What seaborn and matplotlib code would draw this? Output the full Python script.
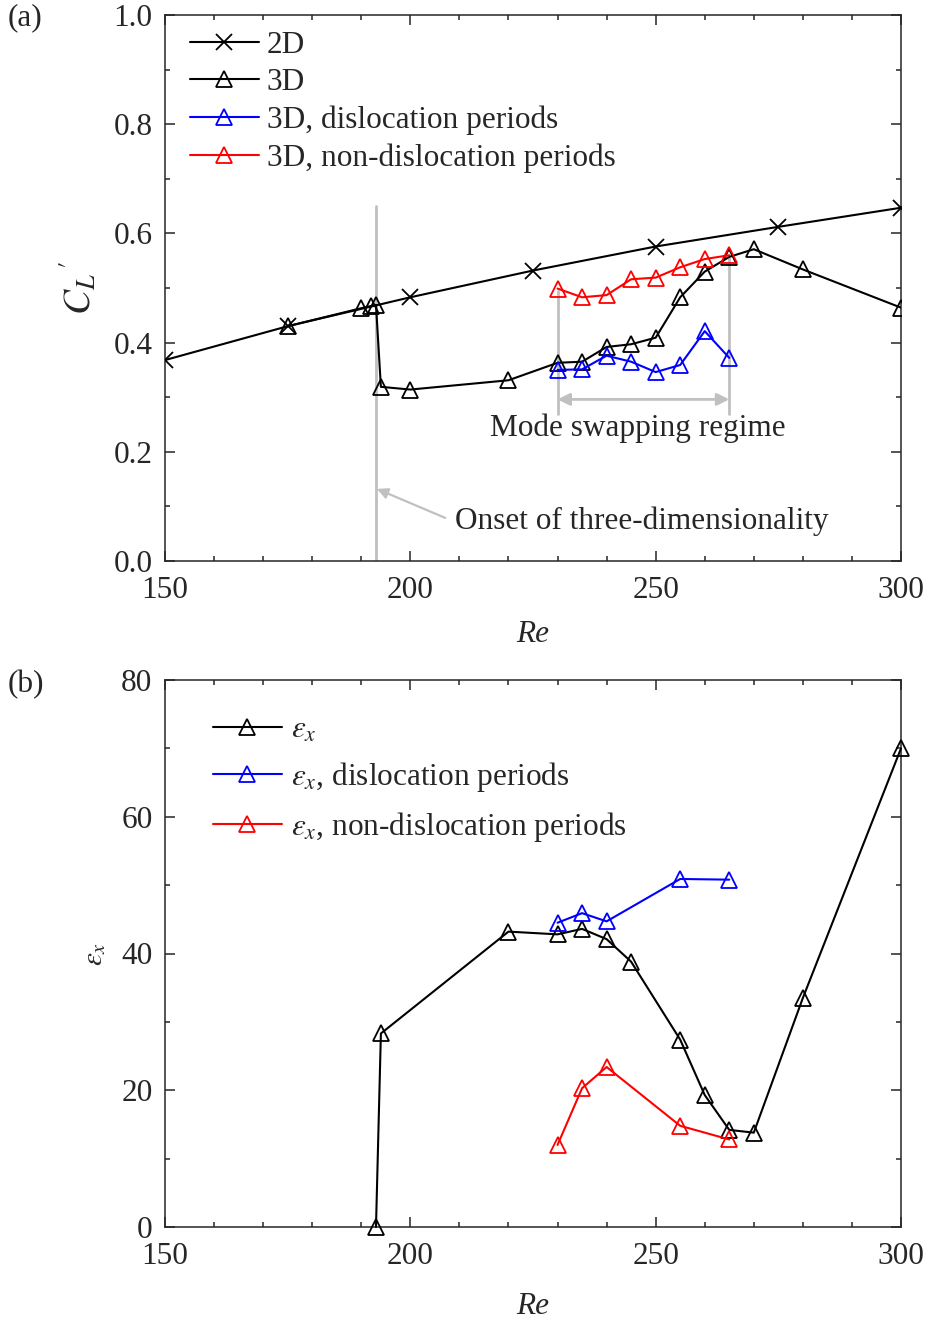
import matplotlib
matplotlib.use("Agg")
import matplotlib.pyplot as plt
import seaborn as sns

# Lift coefficient fluctuation C_L' versus Reynolds number
re_2d = [150, 175, 200, 225, 250, 275, 300]
cl_2d = [0.368, 0.430, 0.483, 0.532, 0.576, 0.612, 0.647]

re_3d = [175, 190, 192, 193, 194, 200, 220, 230, 235, 240, 245, 250, 255,
         260, 265, 270, 280, 300]
cl_3d = [0.430, 0.463, 0.467, 0.469, 0.319, 0.314, 0.331, 0.363, 0.365,
         0.392, 0.397, 0.409, 0.483, 0.530, 0.557, 0.571, 0.534, 0.464]

re_swap = [230, 235, 240, 245, 250, 255, 260, 265]
cl_disl = [0.350, 0.351, 0.376, 0.365, 0.346, 0.359, 0.421, 0.372]
cl_nondisl = [0.499, 0.483, 0.487, 0.516, 0.519, 0.538, 0.553, 0.560]

# Streamwise quantity epsilon_x versus Reynolds number
re_eps = [193, 194, 220, 230, 235, 240, 245, 255, 260, 265, 270, 280, 300]
eps = [0.0, 28.3, 43.2, 42.8, 43.6, 42.1, 38.8, 27.4, 19.3, 14.2, 13.8,
       33.5, 70.0]

re_eps_sub = [230, 235, 240, 255, 265]
eps_disl = [44.5, 45.9, 44.7, 50.9, 50.8]
eps_nondisl = [12.0, 20.3, 23.4, 14.8, 12.8]

sns.set_style("ticks")
plt.rcParams["font.family"] = ["Liberation Serif", "DejaVu Serif"]
plt.rcParams["mathtext.fontset"] = "stix"
FS = 22.5
plt.rcParams["font.size"] = FS

GRAY = "#c0c0c0"
BLUE = "#0000ff"
RED = "#ff0000"

fig = plt.figure(figsize=(9.26, 13.22), dpi=100)
W, H = 926.0, 1322.0
ax1 = fig.add_axes([165 / W, 1 - 561 / H, 736 / W, 546 / H])
ax2 = fig.add_axes([165 / W, 1 - 1227 / H, 736 / W, 547 / H])


def series(ax, x, y, color, marker, label, clip=True, ms=11):
    sns.lineplot(x=x, y=y, ax=ax, color=color, marker=marker,
                 markersize=ms, markerfacecolor="none",
                 markeredgecolor=color, markeredgewidth=1.3,
                 linewidth=1.5, label=label, clip_on=clip, zorder=3)


def style_axes(ax, ymajor, yminor, ylim):
    ax.set_xlim(150, 300)
    ax.set_ylim(*ylim)
    ax.set_xticks([150, 200, 250, 300])
    ax.set_xticks(range(160, 300, 10), minor=True)
    ax.set_yticks(ymajor)
    ax.set_yticks(yminor, minor=True)
    ax.tick_params(which="both", direction="in", top=True, right=True,
                   width=1.1, labelsize=FS)
    ax.tick_params(axis="x", pad=11)
    ax.tick_params(axis="y", pad=9)
    ax.tick_params(which="major", length=7)
    ax.tick_params(which="minor", length=3.5)
    for s in ax.spines.values():
        s.set_linewidth(1.1)
        s.set_visible(True)
    ax.set_xlabel("Re", style="italic", fontsize=FS)
    ax.xaxis.set_label_coords(0.5, -0.108)


# ---- panel (a) ----
series(ax1, re_2d, cl_2d, "black", "x", "2D")
series(ax1, re_3d, cl_3d, "black", "^", "3D")
series(ax1, re_swap, cl_disl, BLUE, "^", "3D, dislocation periods")
series(ax1, re_swap, cl_nondisl, RED, "^", "3D, non-dislocation periods")

ax1.plot([193, 193], [0, 0.65], color=GRAY, lw=2, zorder=1)
ax1.plot([230, 230], [0.27, 0.495], color=GRAY, lw=2, zorder=1)
ax1.plot([265, 265], [0.27, 0.555], color=GRAY, lw=2, zorder=1)
ax1.annotate("", xy=(230, 0.296), xytext=(265, 0.296),
             arrowprops=dict(arrowstyle="<|-|>", color=GRAY, lw=2,
                             mutation_scale=18, shrinkA=0, shrinkB=0))
ax1.text(246.3, 0.244, "Mode swapping regime", ha="center", va="center",
         fontsize=FS)
ax1.annotate("", xy=(193.2, 0.132), xytext=(207.1, 0.079),
             arrowprops=dict(arrowstyle="-|>", color=GRAY, lw=1.6,
                             mutation_scale=16, shrinkA=0, shrinkB=0))
ax1.text(209.1, 0.072, "Onset of three-dimensionality", ha="left",
         va="center", fontsize=FS)

style_axes(ax1, [0, 0.2, 0.4, 0.6, 0.8, 1.0],
           [0.1, 0.3, 0.5, 0.7, 0.9], (0, 1.0))
ax1.set_yticklabels(["0.0", "0.2", "0.4", "0.6", "0.8", "1.0"])
ax1.set_ylabel(r"$C_L\,'$", fontsize=27)
ax1.yaxis.set_label_coords(-0.09, 0.5)
ax1.legend(loc="upper left", bbox_to_anchor=(0.034, 0.971), frameon=False,
           borderpad=0, borderaxespad=0, handlelength=2.2,
           handletextpad=0.25, labelspacing=0.27, fontsize=FS)

# ---- panel (b) ----
series(ax2, re_eps, eps, "black", "^", r"$\varepsilon_x$", clip=False)
series(ax2, re_eps_sub, eps_disl, BLUE, "^",
       r"$\varepsilon_x$, dislocation periods", clip=False)
series(ax2, re_eps_sub, eps_nondisl, RED, "^",
       r"$\varepsilon_x$, non-dislocation periods", clip=False)

style_axes(ax2, [0, 20, 40, 60, 80], [10, 30, 50, 70], (0, 80))
ax2.xaxis.set_label_coords(0.5, -0.118)
ax2.set_ylabel(r"$\varepsilon_x$", fontsize=21)
ax2.yaxis.set_label_coords(-0.077, 0.5)
ax2.legend(loc="upper left", bbox_to_anchor=(0.065, 0.935), frameon=False,
           borderpad=0, borderaxespad=0, handlelength=2.2,
           handletextpad=0.3, labelspacing=0.5, fontsize=FS)

fig.text(8 / W, 1 - 18 / H, "(a)", ha="left", va="center", fontsize=FS)
fig.text(8 / W, 1 - 685 / H, "(b)", ha="left", va="center", fontsize=FS)

fig.savefig("out.png", dpi=100)
